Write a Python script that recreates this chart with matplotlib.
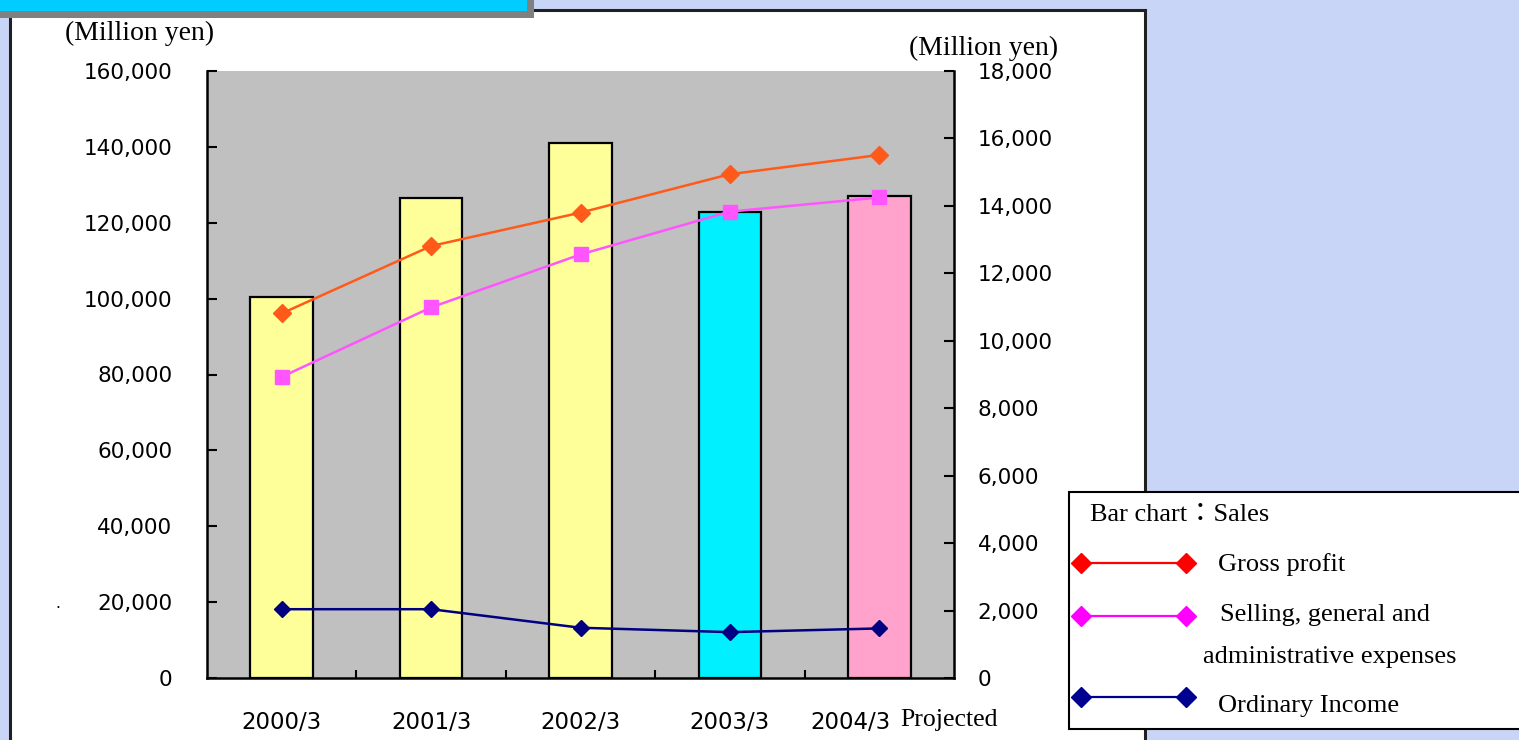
import matplotlib.pyplot as plt
from matplotlib.patches import Rectangle
from matplotlib.lines import Line2D
from matplotlib.ticker import FuncFormatter, MultipleLocator
from matplotlib.transforms import ScaledTranslation
import numpy as np

# fiscal periods and results (million yen)
periods = ['2000/3', '2001/3', '2002/3', '2003/3', '2004/3']
sales = [100500, 126450, 140950, 122750, 127050]
gross_profit = [10810, 12810, 13800, 14940, 15510]
sga_expenses = [8930, 10990, 12560, 13830, 14250]
ordinary_income = [2040, 2040, 1490, 1360, 1470]
bar_colors = ['#ffff99', '#ffff99', '#ffff99', '#00f0ff', '#ffa3cc']

W, H = 1519, 740
fig = plt.figure(figsize=(W / 100, H / 100), dpi=100)
fig.patch.set_facecolor('#c9d5f6')

SERIF = ['Liberation Serif', 'Noto Sans CJK JP']
SANS = 'DejaVu Sans'


def fx(x):
    return x / W


def fy(y):
    return 1 - y / H


def box(x0, y0, x1, y1, **kw):
    fig.add_artist(Rectangle((fx(x0), fy(y1)), (x1 - x0) / W, (y1 - y0) / H,
                             transform=fig.transFigure, **kw))


# page furniture: white panel, header strip, legend box
box(10, 10, 1145, 770, facecolor='white', edgecolor='#202020', lw=2.2, zorder=-3)
box(-10, -10, 534, 18, facecolor='#808080', lw=0, zorder=-2)
box(-10, -10, 527, 11, facecolor='#00ccff', lw=0, zorder=-1)
box(1069, 492, 1540, 729, facecolor='white', edgecolor='black', lw=1.5, zorder=5)

ax = fig.add_axes([fx(207), fy(678), (954 - 207) / W, (678 - 71) / H])
ax.set_facecolor('#c0c0c0')
x = np.arange(len(periods))
ax.bar(x, sales, width=0.42, color=bar_colors, edgecolor='black', linewidth=1.6)
ax.set_xlim(-0.5, len(periods) - 0.5)
ax.set_ylim(0, 160000)
ax.yaxis.set_major_locator(MultipleLocator(20000))
ax.yaxis.set_major_formatter(FuncFormatter(lambda v, p: f'{v:,.0f}'))
ax.set_xticks(x)
ax.set_xticklabels(periods, family=SANS, fontsize=16.5)
ax.set_xticks(np.arange(0.5, len(periods) - 0.5), minor=True)
ax.tick_params(axis='x', which='major', length=0, pad=23.5)
ax.tick_params(axis='x', which='minor', direction='in', length=6, width=1.5)
ax.tick_params(axis='y', direction='in', length=7, width=1.5, pad=25, labelsize=15.5)
for lab in ax.get_yticklabels():
    lab.set_family(SANS)
# last period label sits left of centre to leave room for "Projected"
last = ax.get_xticklabels()[-1]
last.set_transform(last.get_transform() + ScaledTranslation(-0.29, 0, fig.dpi_scale_trans))
for s in ['top', 'right']:
    ax.spines[s].set_visible(False)
for s in ['left', 'bottom']:
    ax.spines[s].set_linewidth(1.8)

ax2 = ax.twinx()
ax2.set_ylim(0, 18000)
ax2.yaxis.set_major_locator(MultipleLocator(2000))
ax2.yaxis.set_major_formatter(FuncFormatter(lambda v, p: f'{v:,.0f}'))
ax2.tick_params(axis='y', direction='in', length=7, width=1.5, pad=17, labelsize=15.5)
for lab in ax2.get_yticklabels():
    lab.set_family(SANS)
for s in ['top', 'left', 'bottom']:
    ax2.spines[s].set_visible(False)
ax2.spines['right'].set_linewidth(1.8)

ax2.plot(x, gross_profit, color='#ff5a1a', lw=1.8, marker='D', markersize=9)
ax2.plot(x, sga_expenses, color='#ff55ff', lw=1.8, marker='s', markersize=10.5)
ax2.plot(x, ordinary_income, color='#000080', lw=1.8, marker='D', markersize=8.5)

# unit captions and notes
fig.text(fx(140), fy(33), '(Million yen)', family=SERIF, fontsize=20, ha='center', va='center')
fig.text(fx(984), fy(48), '(Million yen)', family=SERIF, fontsize=20, ha='center', va='center')
fig.text(fx(900), fy(720), 'Projected', family=SERIF, fontsize=18.5, ha='left', va='center')
fig.text(fx(58), fy(603), '.', fontsize=11, ha='center', va='center')

# legend
fig.text(fx(1090), fy(515), 'Bar chart：Sales', family=SERIF, fontsize=19, va='center', zorder=6)
for yy, col in [(563, '#ff0000'), (616, '#ff00ff'), (697, '#000090')]:
    fig.add_artist(Line2D([fx(1081), fx(1186)], [fy(yy), fy(yy)], color=col, lw=1.6,
                          marker='D', markersize=10, transform=fig.transFigure, zorder=6))
for tx, ty, txt in [(1218, 565, 'Gross profit'), (1220, 615, 'Selling, general and'),
                    (1203, 657, 'administrative expenses'), (1218, 706, 'Ordinary Income')]:
    fig.text(fx(tx), fy(ty), txt, family=SERIF, fontsize=19, va='center', zorder=6)

fig.savefig('out.png', dpi=100, facecolor=fig.get_facecolor())
